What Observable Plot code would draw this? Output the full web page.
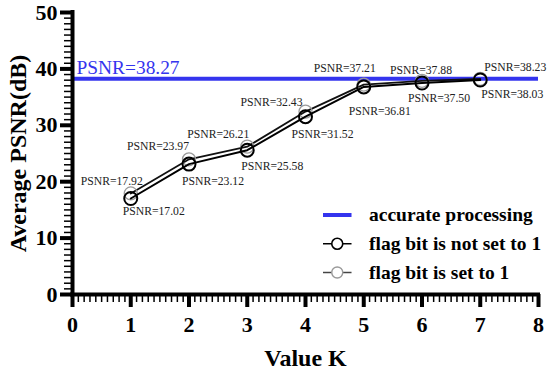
<!DOCTYPE html>
<html>
<head>
<meta charset="utf-8">
<script src="https://cdn.jsdelivr.net/npm/d3@7"></script>
<script src="https://cdn.jsdelivr.net/npm/@observablehq/plot@0.6"></script>
<style>
  html, body { margin: 0; padding: 0; background: #fff; }
  #chart svg { display: block; }
</style>
</head>
<body>
<div id="chart"></div>
<script>
// ---- data ----
const kValues = [1, 2, 3, 4, 5, 6, 7];
const psnrFlagNotSet = [17.02, 23.12, 25.58, 31.52, 36.81, 37.50, 38.03];
const psnrFlagSet = [17.92, 23.97, 26.21, 32.43, 37.21, 37.88, 38.23];
const psnrAccurate = 38.27;
const xTickValues = [0, 1, 2, 3, 4, 5, 6, 7, 8];
const yTickValues = [0, 10, 20, 30, 40, 50];
const legendNames = ["accurate processing", "flag bit is not set to 1", "flag bit is set to 1"];

// ---- label placement (pixel offsets, styling only) ----
const setOffsets = [[-19,-12],[-31,-13],[-29,-12],[-34,-9],[-19,-16],[-1,-11],[35,-12]];
const notSetOffsets = [[23,13],[24,17],[25,16],[17,18],[16,24],[17,15],[32,14]];

const notSet = kValues.map((k, i) => ({k, v: psnrFlagNotSet[i]}));
const isSet = kValues.map((k, i) => ({k, v: psnrFlagSet[i]}));

const FONT = "Liberation Serif, Times New Roman, serif";
const BLUE = "#3434ee";
const GRAY = "#9a9a9a";

const labelMarks = [];
isSet.forEach((d, i) => labelMarks.push(Plot.text([d], {
  x: "k", y: "v", text: d => "PSNR=" + d.v.toFixed(2),
  dx: setOffsets[i][0], dy: setOffsets[i][1], fontSize: 11.7, fill: "#222"
})));
notSet.forEach((d, i) => labelMarks.push(Plot.text([d], {
  x: "k", y: "v", text: d => "PSNR=" + d.v.toFixed(2),
  dx: notSetOffsets[i][0], dy: notSetOffsets[i][1], fontSize: 11.7, fill: "#222"
})));

// legend rows (in data units inside the frame)
const legendRows = [
  {name: legendNames[0], y: 14.1},
  {name: legendNames[1], y: 9.0},
  {name: legendNames[2], y: 3.9}
];
const lx0 = 4.3, lx1 = 4.79, lxc = 4.545, ltx = 5.09;

const chart = Plot.plot({
  width: 550,
  height: 374,
  marginLeft: 72,
  marginRight: 12,
  marginTop: 12,
  marginBottom: 80,
  style: {fontFamily: FONT, background: "#fff"},
  x: {domain: [0, 8]},
  y: {domain: [0, 50]},
  marks: [
    // minor ticks
    Plot.axisX({ticks: d3.range(0, 81).map(d => d / 10), tickSize: 8, strokeWidth: 1.5, tickFormat: () => "", label: null}),
    Plot.axisY({ticks: d3.range(0, 51), tickSize: 8, strokeWidth: 1.5, tickFormat: () => "", label: null}),
    // major ticks
    Plot.axisX({ticks: xTickValues, tickSize: 13, strokeWidth: 4, tickPadding: 9, fontSize: 22, fontWeight: "bold", fill: "#000", label: null, tickFormat: d => String(d)}),
    Plot.axisY({ticks: yTickValues, tickSize: 12, strokeWidth: 4, tickPadding: 3, fontSize: 22, fontWeight: "bold", fill: "#000", label: null, tickFormat: d => String(d)}),
    // axis titles
    Plot.text(["Value K"], {frameAnchor: "bottom", textAnchor: "middle", lineAnchor: "middle", dy: 64, fontSize: 24, fontWeight: "bold", fill: "#000"}),
    Plot.text(["Average PSNR(dB)"], {frameAnchor: "left", textAnchor: "middle", lineAnchor: "middle", dx: -54, rotate: -90, fontSize: 24, fontWeight: "bold", fill: "#000"}),
    // accurate processing reference
    Plot.ruleY([psnrAccurate], {stroke: BLUE, strokeWidth: 4}),
    Plot.text([psnrAccurate], {x: 0, y: d => d, text: d => "PSNR=" + d.toFixed(2), textAnchor: "start", dx: 4, dy: -11, fontSize: 19.4, fill: BLUE}),
    // flag bit set (gray)
    Plot.line(isSet, {x: "k", y: "v", stroke: "#111", strokeWidth: 1.8}),
    Plot.dot(isSet, {x: "k", y: "v", r: 6.5, stroke: GRAY, strokeWidth: 1.3, fill: "none"}),
    // flag bit not set (black)
    Plot.line(notSet, {x: "k", y: "v", stroke: "#000", strokeWidth: 2}),
    Plot.dot(notSet, {x: "k", y: "v", r: 6.5, stroke: "#000", strokeWidth: 2, fill: "none"}),
    ...labelMarks,
    // legend
    Plot.link([legendRows[0]], {x1: lx0, x2: lx1, y1: "y", y2: "y", stroke: BLUE, strokeWidth: 4}),
    Plot.link([legendRows[1]], {x1: lx0, x2: lx1, y1: "y", y2: "y", stroke: "#000", strokeWidth: 1.5}),
    Plot.dot([legendRows[1]], {x: lxc, y: "y", r: 5.5, stroke: "#000", strokeWidth: 1.6, fill: "white"}),
    Plot.link([legendRows[2]], {x1: lx0, x2: lx1, y1: "y", y2: "y", stroke: "#444", strokeWidth: 1.5}),
    Plot.dot([legendRows[2]], {x: lxc, y: "y", r: 5.5, stroke: GRAY, strokeWidth: 1.4, fill: "white"}),
    Plot.text(legendRows, {x: ltx, y: "y", text: "name", textAnchor: "start", fontSize: 19.5, fontWeight: "bold", fill: "#000"}),
    // axis lines
    Plot.ruleX([0], {stroke: "#000", strokeWidth: 4, strokeLinecap: "square"}),
    Plot.ruleY([0], {stroke: "#000", strokeWidth: 4, strokeLinecap: "square"})
  ]
});
document.getElementById("chart").appendChild(chart);
</script>
</body>
</html>
